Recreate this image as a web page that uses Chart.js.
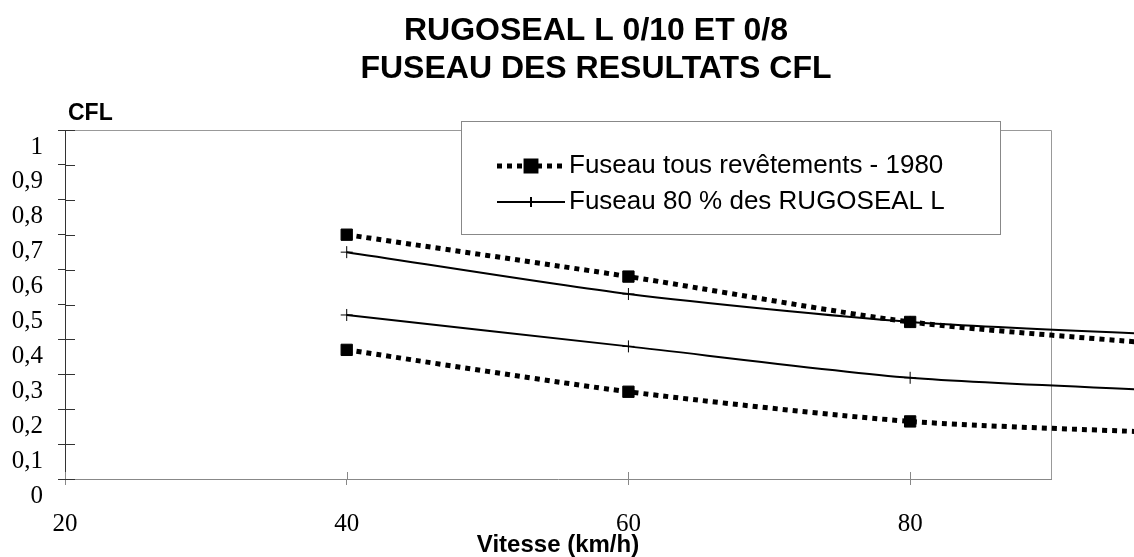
<!DOCTYPE html>
<html>
<head>
<meta charset="utf-8">
<script src="https://cdn.jsdelivr.net/npm/chart.js@4"></script>
<style>
	html, body { margin: 0; padding: 0; background: #fff; }
</style>
</head>
<body>
<canvas id="cfl-graph" width="1134" height="557"></canvas>
<script>
/*************************
DATA
*************************/

const speeds = [40, 60, 80, 100];//km/h
const fuseau1980Haut = [0.70, 0.58, 0.45, 0.38];
const fuseau1980Bas = [0.37, 0.25, 0.165, 0.13];
const rugosealHaut = [0.65, 0.53, 0.45, 0.41];
const rugosealBas = [0.47, 0.38, 0.29, 0.25];

const xTickValues = [20, 40, 60, 80];
const yTickValues = [0, 0.1, 0.2, 0.3, 0.4, 0.5, 0.6, 0.7, 0.8, 0.9, 1];

const titleLines = ['RUGOSEAL L 0/10 ET 0/8', 'FUSEAU DES RESULTATS CFL'];
const legendLabels = ['Fuseau tous revêtements - 1980', 'Fuseau 80 % des RUGOSEAL L'];

/*************************
STYLES
*************************/

const sansFont = 'Liberation Sans, Arial, sans-serif';
const serifFont = 'Liberation Serif, Times New Roman, serif';

const dottedStyle = {
	borderColor: '#000',
	backgroundColor: '#000',
	borderWidth: 5,
	borderDash: [5, 5],
	borderCapStyle: 'butt',
	pointStyle: 'rect',
	pointRadius: 8,
	pointBorderWidth: 1,
	tension: 0.25,
	clip: false,
};

const solidStyle = {
	borderColor: '#000',
	backgroundColor: '#000',
	borderWidth: 2,
	pointStyle: 'cross',
	pointRadius: 6,
	pointBorderWidth: 1,
	tension: 0.25,
	clip: false,
};

function ToPoints(values){
	return values.map((v, i) => ({x: speeds[i], y: v}));
}

/*************************
PLUGINS
*************************/

//frame around the plot, inner tick marks, title and the "CFL" axis label
const framePlugin = {
	id: 'frame',
	beforeDatasetsDraw(chart){
		const {ctx, chartArea, scales} = chart;
		ctx.save();
		ctx.strokeStyle = '#999';
		ctx.lineWidth = 1;
		ctx.beginPath();
		ctx.moveTo(chartArea.left, chartArea.top + 0.5);
		ctx.lineTo(chartArea.right + 0.5, chartArea.top + 0.5);
		ctx.lineTo(chartArea.right + 0.5, chartArea.bottom);
		ctx.stroke();

		//ticks crossing the axes
		ctx.strokeStyle = '#333';
		ctx.beginPath();
		yTickValues.forEach(v => {
			const y = Math.round(scales.y.getPixelForValue(v)) + 0.5;
			ctx.moveTo(chartArea.left, y);
			ctx.lineTo(chartArea.left + 10, y);
		});
		ctx.stroke();
		ctx.strokeStyle = '#888';
		ctx.beginPath();
		xTickValues.forEach(v => {
			const x = Math.round(scales.x.getPixelForValue(v)) + 0.5;
			ctx.moveTo(x, chartArea.bottom);
			ctx.lineTo(x, chartArea.bottom - 7);
		});
		ctx.stroke();

		ctx.fillStyle = '#000';
		ctx.textAlign = 'center';
		ctx.textBaseline = 'middle';
		ctx.font = 'bold 32px ' + sansFont;
		ctx.fillText(titleLines[0], 596, 31);
		ctx.fillText(titleLines[1], 596, 69);

		ctx.textAlign = 'left';
		ctx.font = 'bold 23px ' + sansFont;
		ctx.fillText('CFL', 68, 114);
		ctx.restore();
	}
};

//legend box in the upper right
const legendPlugin = {
	id: 'boxLegend',
	afterDraw(chart){
		const {ctx} = chart;
		const box = {left: 461, top: 121, right: 1000, bottom: 234};
		ctx.save();
		ctx.fillStyle = '#fff';
		ctx.fillRect(box.left, box.top, box.right - box.left, box.bottom - box.top);
		ctx.strokeStyle = '#888';
		ctx.lineWidth = 1;
		ctx.strokeRect(box.left + 0.5, box.top + 0.5, box.right - box.left, box.bottom - box.top);

		const rows = [166, 202];
		const styles = [dottedStyle, solidStyle];
		rows.forEach((y, i) => {
			const st = styles[i];
			ctx.strokeStyle = '#000';
			ctx.fillStyle = '#000';
			ctx.lineWidth = st.borderWidth;
			ctx.setLineDash(st.borderDash || []);
			ctx.beginPath();
			ctx.moveTo(497, y);
			ctx.lineTo(565, y);
			ctx.stroke();
			ctx.setLineDash([]);
			Chart.helpers.drawPoint(ctx, {
				pointStyle: st.pointStyle,
				radius: st.pointRadius - 1,
				borderWidth: st.pointBorderWidth,
			}, 531, y);
			ctx.font = '26px ' + sansFont;
			ctx.textAlign = 'left';
			ctx.textBaseline = 'middle';
			ctx.fillText(legendLabels[i], 569, y);
		});
		ctx.restore();
	}
};

/*************************
CHART
*************************/

const cflCanvas = document.querySelector('#cfl-graph').getContext('2d');

const cflGraph = new Chart(cflCanvas, {
	type: 'line',
	data: {
		datasets: [
			Object.assign({label: legendLabels[0], data: ToPoints(fuseau1980Haut)}, dottedStyle),
			Object.assign({label: legendLabels[0], data: ToPoints(fuseau1980Bas)}, dottedStyle),
			Object.assign({label: legendLabels[1], data: ToPoints(rugosealHaut)}, solidStyle),
			Object.assign({label: legendLabels[1], data: ToPoints(rugosealBas)}, solidStyle),
		],
	},
	options: {
		responsive: false,
		animation: false,
		layout: {padding: {top: 130, right: 83, left: 0, bottom: 0}},
		plugins: {
			legend: {display: false},
			title: {display: false},
			tooltip: {enabled: false},
		},
		scales: {
			x: {
				type: 'linear',
				min: 20,
				max: 90,
				afterFit(scale){ scale.height = 78; },
				afterBuildTicks(scale){ scale.ticks = xTickValues.map(v => ({value: v})); },
				border: {color: '#888', width: 1},
				grid: {drawOnChartArea: false, tickLength: 6, color: '#888'},
				ticks: {
					font: {family: serifFont, size: 25},
					color: '#000',
					padding: 24,
					maxRotation: 0,
					autoSkip: false,
				},
				title: {
					display: true,
					text: 'Vitesse (km/h)',
					color: '#000',
					font: {family: sansFont, size: 24, weight: 'bold', lineHeight: 1.0},
					padding: {top: 0, bottom: 0},
				},
			},
			y: {
				min: 0,
				max: 1,
				afterFit(scale){ scale.width = 65; },
				afterBuildTicks(scale){ scale.ticks = yTickValues.map(v => ({value: v})); },
				border: {color: '#333', width: 1},
				grid: {drawOnChartArea: false, tickLength: 7, color: '#333'},
				ticks: {
					font: {family: serifFont, size: 25},
					color: '#000',
					padding: 15,
					labelOffset: 17,
					callback: v => String(Math.round(v * 10) / 10).replace('.', ','),
				},
			},
		},
	},
	plugins: [framePlugin, legendPlugin],
});
</script>
</body>
</html>
